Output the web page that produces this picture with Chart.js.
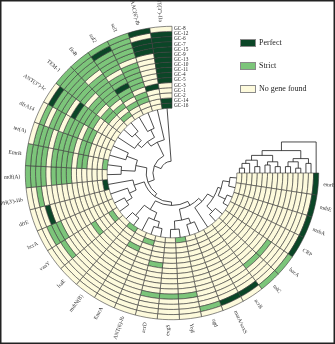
<!DOCTYPE html>
<html>
<head>
<meta charset="utf-8">
<script src="https://cdn.jsdelivr.net/npm/chart.js@4.4.1/dist/chart.umd.min.js"></script>
<style>
  html, body { margin: 0; padding: 0; background: #fff; }
  canvas { display: block; }
</style>
</head>
<body>
<canvas id="gcChart" width="335" height="344"></canvas>
<script>
// Genes, from 12 o'clock going anticlockwise round to 3 o'clock
const geneNames = [
    "ANT(3'')-IIa", "AAC(6')-Ib", "sul1", "sul2", "floR", "TEM-1", "ANT(3'')-Ic",
    "dfrA14", "tet(A)", "EmrB", "mdf(A)", "APH(3')-IIb", "dfrE", "bcrA", "vanY",
    "lsaE", "mdtN(B)", "EmrA", "ANT(6)-Ib", "acrD", "evgS", "YojI", "ugd",
    "marA/soxS", "acrB", "tolC", "bacA", "CRP", "msbA", "mdtE", "emrE"
];

// GC groups, outer ring first
const gcGroups = ['GC-8', 'GC-12', 'GC-6', 'GC-7', 'GC-15', 'GC-9', 'GC-13', 'GC-10',
                  'GC-11', 'GC-4', 'GC-5', 'GC-3', 'GC-1', 'GC-2', 'GC-14', 'GC-16'];

// Hit type per gene: 0 = no gene found, 1 = strict, 2 = perfect
const gc8  = [0,2,1,1,1,1,0,0,0,1,1,0,0,0,0,0,0,0,0,0,0,0,0,0,0,1,1,2,2,2,2];
const gc12 = [2,0,1,2,1,1,2,1,1,1,1,0,0,0,0,0,0,0,0,0,0,0,1,2,2,0,0,0,0,0,0];
const gc6  = [2,2,1,1,1,1,1,0,1,1,1,1,0,1,0,0,0,0,0,0,0,0,0,0,0,0,0,0,0,0,0];
const gc7  = [2,2,1,1,1,1,1,1,1,1,1,0,2,1,1,0,0,0,0,0,0,0,0,0,0,0,0,0,0,0,0];
const gc15 = [2,2,1,1,0,1,1,1,0,0,0,0,0,1,0,0,0,0,0,1,1,1,0,0,0,0,0,0,0,0,0];
const gc9  = [2,0,0,1,1,1,0,0,1,1,1,0,0,0,0,0,0,0,0,0,0,0,0,0,0,1,1,0,0,0,0];
const gc13 = [2,0,1,0,1,1,2,1,1,1,1,0,0,0,0,0,0,0,0,0,0,0,0,0,0,0,0,0,0,0,0];
const gc10 = [2,0,1,1,1,0,1,1,1,1,1,0,0,0,0,0,0,0,0,0,0,0,0,0,0,0,0,0,0,0,0];
const gc11 = [2,0,1,1,1,1,1,1,1,1,1,0,0,0,0,0,0,0,0,0,0,0,0,0,0,0,0,0,0,0,0];
const gc4  = [2,0,1,2,1,1,1,0,0,0,0,0,0,0,0,0,0,0,0,0,0,0,0,0,0,0,0,0,0,0,0];
const gc5  = [2,0,1,1,1,0,1,1,1,1,0,0,0,0,1,0,0,0,0,1,0,0,0,0,0,0,0,0,0,0,0];
const gc3  = [0,2,0,1,0,1,0,1,1,1,0,0,0,0,0,0,0,0,0,0,0,0,0,0,0,0,0,0,0,0,0];
const gc1  = [0,0,1,0,1,1,0,0,0,0,0,0,0,0,0,0,0,1,0,0,0,0,0,0,0,0,0,0,0,0,0];
const gc2  = [0,0,1,1,0,0,0,0,0,0,0,0,0,0,0,0,0,0,0,0,0,0,0,0,0,0,0,0,0,0,0];
const gc14 = [2,0,0,0,1,0,0,0,0,0,0,0,0,0,1,0,0,0,1,0,0,0,0,0,0,0,0,0,0,0,0];
const gc16 = [2,0,0,0,0,0,0,0,0,1,0,2,0,0,0,0,1,0,0,0,0,1,0,0,0,0,0,0,0,0,0];

const hitRows = [gc8, gc12, gc6, gc7, gc15, gc9, gc13, gc10, gc11, gc4, gc5, gc3, gc1, gc2, gc14, gc16];

const hitLabels = ['No gene found', 'Strict', 'Perfect'];
const hitColors = ['#fdfadc', '#7cc57a', '#0b4627'];

// Gene clustering: [height, left, right], leaves are gene indices
const geneTree = [0.95, 0, [0.82,
    [0.55, 1, [0.45, [0.3, 2, 3], [0.36, [0.2, 4, 5], 6]]],
    [0.7,
        [0.5, [0.3, 7, 8], [0.25, 9, 10]],
        [0.64,
            [0.45, 11, [0.32, 12, [0.2, 13, 14]]],
            [0.58,
                [0.4, [0.16, 15, 16], [0.26, 17, [0.15, 18, 19]]],
                [0.5,
                    [0.3, [0.15, 20, 21], [0.2, 22, 23]],
                    [0.42, 24, [0.3, [0.16, 25, 26], [0.24, [0.1, 27, 28], [0.12, 29, 30]]]]
                ]
            ]
        ]
    ]
]];

// GC group clustering, leaves are ring indices (0 = outer ring)
const gcTree = [0.97, 0, [0.7,
    [0.45, [0.3, 1, 2], [0.35, [0.15, 3, 4], [0.2, 5, 6]]],
    [0.55, [0.35, [0.2, 7, 8], [0.25, 9, 10]], [0.4, [0.2, 11, 12], [0.3, 13, [0.15, 14, 15]]]]
]];

const nGenes = geneNames.length;
// the doughnut runs clockwise from 3 o'clock, so genes go in reversed
const chartOrder = geneNames.map((_, i) => nGenes - 1 - i);

const datasets = hitRows.map((row, r) => ({
    label: gcGroups[r],
    data: chartOrder.map(() => 1),
    backgroundColor: chartOrder.map(k => hitColors[row[k]]),
    borderColor: '#3a3a3a',
    borderWidth: 0.6,
    hoverOffset: 0
}));

const labelFont = '"Liberation Serif", "DejaVu Serif", serif';

function midAngle(arc) {
    return (arc.startAngle + arc.endAngle) / 2;
}

const decorPlugin = {
    id: 'decor',
    afterDatasetsDraw(chart) {
        const ctx = chart.ctx;
        const outerArcs = chart.getDatasetMeta(0).data;
        const innerArcs = chart.getDatasetMeta(hitRows.length - 1).data;
        const cx = outerArcs[0].x;
        const cy = outerArcs[0].y;
        const outerR = outerArcs[0].outerRadius;
        const innerR = innerArcs[0].innerRadius;

        ctx.save();
        ctx.strokeStyle = '#1e1e1e';
        ctx.lineWidth = 0.8;

        // circular gene dendrogram inside the rings
        const rootR = 9;
        function geneNode(node) {
            if (typeof node === 'number') {
                return { a: midAngle(outerArcs[nGenes - 1 - node]), r: innerR };
            }
            const r = innerR - node[0] * (innerR - rootR);
            const kids = node.slice(1).map(geneNode);
            ctx.beginPath();
            kids.forEach(p => {
                ctx.moveTo(cx + p.r * Math.cos(p.a), cy + p.r * Math.sin(p.a));
                ctx.lineTo(cx + r * Math.cos(p.a), cy + r * Math.sin(p.a));
            });
            const a0 = Math.min(...kids.map(p => p.a));
            const a1 = Math.max(...kids.map(p => p.a));
            ctx.moveTo(cx + r * Math.cos(a0), cy + r * Math.sin(a0));
            ctx.arc(cx, cy, r, a0, a1);
            ctx.stroke();
            return { a: (a0 + a1) / 2, r };
        }
        geneNode(geneTree);

        // GC group dendrogram above the 3 o'clock end
        const treeH = 32;
        function gcNode(node) {
            if (typeof node === 'number') {
                const arc = chart.getDatasetMeta(node).data[0];
                return { x: cx + (arc.innerRadius + arc.outerRadius) / 2, y: cy };
            }
            const y = cy - node[0] * treeH;
            const kids = node.slice(1).map(gcNode);
            ctx.beginPath();
            kids.forEach(p => {
                ctx.moveTo(p.x, p.y);
                ctx.lineTo(p.x, y);
            });
            const x0 = Math.min(...kids.map(p => p.x));
            const x1 = Math.max(...kids.map(p => p.x));
            ctx.moveTo(x0, y);
            ctx.lineTo(x1, y);
            ctx.stroke();
            return { x: (x0 + x1) / 2, y };
        }
        gcNode(gcTree);

        // gene names around the outside
        ctx.fillStyle = '#2a2a2a';
        ctx.font = '5.5px ' + labelFont;
        ctx.textBaseline = 'middle';
        const labelR = outerR + 5;
        outerArcs.forEach((arc, i) => {
            const a = midAngle(arc);
            const name = geneNames[chartOrder[i]];
            ctx.save();
            ctx.translate(cx + labelR * Math.cos(a), cy + labelR * Math.sin(a));
            if (Math.cos(a) >= 0) {
                ctx.rotate(a);
                ctx.textAlign = 'left';
            } else {
                ctx.rotate(a + Math.PI);
                ctx.textAlign = 'right';
            }
            ctx.fillText(name, 0, 0);
            ctx.restore();
        });

        // GC group names next to the 12 o'clock end
        ctx.textAlign = 'left';
        ctx.font = '5.3px ' + labelFont;
        gcGroups.forEach((g, r) => {
            const arc = chart.getDatasetMeta(r).data[0];
            const y = cy - (arc.innerRadius + arc.outerRadius) / 2;
            ctx.fillText(g, cx + 2, y);
        });

        // legend
        ctx.font = '8px ' + labelFont;
        const legendItems = [2, 1, 0];
        legendItems.forEach((v, j) => {
            const y = 39 + j * 23;
            ctx.fillStyle = hitColors[v];
            ctx.fillRect(240.5, y + 0.5, 15, 7);
            ctx.strokeStyle = '#8a8a8a';
            ctx.lineWidth = 1;
            ctx.strokeRect(240.5, y + 0.5, 15, 7);
            ctx.fillStyle = '#222';
            ctx.fillText(hitLabels[v], 259, y + 4);
        });

        // frame
        ctx.strokeStyle = '#222';
        ctx.lineWidth = 1.5;
        ctx.strokeRect(0.75, 0.75, chart.width - 1.5, chart.height - 1.5);
        ctx.restore();
    }
};

new Chart(document.getElementById('gcChart'), {
    type: 'doughnut',
    data: {
        labels: chartOrder.map(k => geneNames[k]),
        datasets: datasets
    },
    options: {
        responsive: false,
        animation: false,
        rotation: 90,
        circumference: 270,
        cutout: '44.2%',
        layout: { padding: { left: 25, top: 26, right: 16, bottom: 24 } },
        plugins: {
            legend: { display: false },
            tooltip: { enabled: false }
        }
    },
    plugins: [decorPlugin]
});
</script>
</body>
</html>
